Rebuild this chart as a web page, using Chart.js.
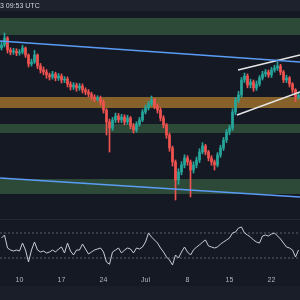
<!DOCTYPE html>
<html><head><meta charset="utf-8">
<script src="https://cdn.jsdelivr.net/npm/chart.js@4.4.1/dist/chart.umd.min.js"></script>
<style>html,body{margin:0;padding:0;background:#151924;overflow:hidden}canvas{display:block}</style>
</head><body>
<canvas id="c" width="300" height="300"></canvas>
<script>
// ---- data (12h candles; day numbers counted from Jun 1 = 1, Jul 1 = 31) ----
const startDay = 7, stepDays = 0.5;
const firstOpen = 71000;
const closes = [71325,72130,70750,70520,70635,70405,70520,70980,70175,69140,
 69370,70175,68910,68450,68220,67875,67645,67990,67530,67760,
 67300,67415,66840,66495,66725,66380,66610,66150,65920,65690,
 65345,65115,65230,64770,63850,62470,61780,62700,63160,62700,
 63045,62470,62930,62010,61550,62240,62700,63620,64080,64540,
 65000,64310,63850,62930,62125,60975,59480,57870,55800,56720,
 57525,58330,57870,56950,57525,58100,59020,59710,59020,58330,
 57870,57525,58675,59480,60400,61320,61780,63620,65000,65575,
 67300,67760,66725,67070,66380,66840,67530,67990,68220,67875,
 68450,68680,68910,68220,67300,67530,66840,66150,65345,65575];
const highs = [71700,72705,72300,71000,70950,70900,70800,71300,71100,70300,
 69700,70700,70300,69200,68800,68500,68100,68300,68200,68050,
 68000,67700,67650,67100,67000,66950,66900,66850,66400,66200,
 65900,65600,65500,65450,65000,64000,62800,63000,63500,63450,
 63350,63300,63250,63100,62300,62500,63000,63900,64400,64850,
 65460,65200,64550,64100,63200,62300,61200,59700,58100,57100,
 57900,58700,58600,58100,57900,58450,59400,60100,59900,59200,
 58600,58100,58950,59800,60700,61600,62100,64000,65300,66000,
 67600,68100,68000,67400,67300,67200,67800,68300,68500,68450,
 68750,69000,69370,69100,68400,67850,67700,67000,66300,65900];
const lows = [70750,71100,70400,70200,70250,70100,70150,70300,69900,68800,
 68900,69200,68600,68100,67900,67500,67300,67400,67200,67250,
 66950,67000,66500,66150,66200,66000,66100,65800,65600,65350,
 65000,64800,64900,64400,63500,60975,59020,61500,62400,62400,
 62400,62150,62200,61700,61200,61300,62000,62500,63400,63850,
 64300,64000,63500,62600,61800,60600,59100,57400,53500,55300,
 56400,57200,57500,53845,56600,57200,57800,58800,58700,58000,
 57500,56950,57300,58400,59200,60100,61000,61500,63300,64700,
 65300,67000,66400,66400,66000,66100,66600,67300,67700,67600,
 67600,68200,68400,67900,67000,67000,66500,65800,64800,65100];
const rsi = [62,66.8,46,42.8,41.2,42.8,41.2,54,42.8,23.6,
 42.8,55.6,42.8,39.6,41.2,38,39.6,42.8,39.6,44.4,
 47.6,38,54,41.2,34.8,42.8,42.8,52.4,44.4,36.4,
 39.6,42.8,44.4,46,39.6,23.6,20,39.6,42.8,46,
 38,42.8,46,44.4,38,46,44.4,47.6,55.6,70,
 63.6,58.8,54,46,39.6,31.6,26.8,18.8,34.8,30,
 39.6,47.6,39.6,34.8,42.8,47.6,50.8,55.6,58.8,49.2,
 47.6,46,47.6,52.4,55.6,58.8,62,70,71.6,78,
 79.6,70,66.8,63.6,58.8,55.6,54,65.2,66.8,65.2,
 68.4,70,65.2,60.4,54,47.6,46,42.8,31.6,42.8];
const tickDays = [10,17,24,31,38,45,52];
const tickLabels = ['10','17','24','Jul','8','15','22'];
// horizontal zones (price ranges)
const zoneLow  = [72475, 64080, 61205, 54190];
const zoneHigh = [74430, 65345, 62240, 55915];
// trend lines: [day, price] endpoints
const blueTopDays = [6.75, 56.75],  blueTopPrices = [71785, 69370];
const blueBotDays = [6.75, 56.75],  blueBotPrices = [56030, 53845];
const wedgeTopDays = [46.42, 56.75], wedgeTopPrices = [68450, 70175];
const wedgeBotDays = [46.25, 56.75], wedgeBotPrices = [63275, 65920];
const rsiLevels = [70, 30];
const xRange = [6.75, 56.75];

// ---- styles ----
const UP = '#26a69a', DOWN = '#ef5350';
const zoneFill = ['#2c4a37', '#86622a', '#2c4a37', '#2c4a37'];

// ---- build ----
const days = closes.map((_, i) => startDay + stepDays * i);
const opens = closes.map((c, i) => i === 0 ? firstOpen : closes[i - 1]);
const col = closes.map((c, i) => c >= opens[i] ? UP : DOWN);
const pairs = (ds, ps) => ds.map((d, i) => ({x: d, y: ps[i]}));

const zonePlugin = {
  id: 'zones',
  beforeDraw(chart) {
    const ctx = chart.ctx;
    ctx.save();
    ctx.fillStyle = '#151924';
    ctx.fillRect(0, 0, chart.width, chart.height);
    ctx.restore();
  },
  beforeDatasetsDraw(chart) {
    const {ctx, chartArea: a, scales: {y}} = chart;
    ctx.save();
    zoneLow.forEach((lo, i) => {
      const t = y.getPixelForValue(zoneHigh[i]), b = y.getPixelForValue(lo);
      ctx.fillStyle = zoneFill[i];
      ctx.fillRect(a.left, t, a.right - a.left, b - t);
    });
    ctx.fillStyle = '#232734';
    ctx.fillRect(0, 219, chart.width, 1);
    ctx.restore();
  },
  afterDraw(chart) {
    const ctx = chart.ctx;
    ctx.save();
    ctx.fillStyle = '#1e222d';
    ctx.fillRect(0, 0, chart.width, 11);
    ctx.fillStyle = '#1a1e29';
    ctx.fillRect(0, 286, chart.width, 14);
    ctx.fillStyle = '#d1d4dc';
    ctx.font = '7px "Liberation Sans", Arial, sans-serif';
    ctx.textBaseline = 'middle';
    ctx.fillText('3 09:53 UTC', 0, 6);
    ctx.restore();
  }
};

const lineDs = (ds, ps, color, axis, dash) => ({
  type: 'line', data: pairs(ds, ps), borderColor: color, borderWidth: 1.5,
  pointRadius: 0, yAxisID: axis, borderDash: dash || [], order: 0
});

new Chart(document.getElementById('c'), {
  type: 'bar',
  data: {
    datasets: [
      lineDs(blueTopDays, blueTopPrices, '#5b9cf6', 'y'),
      lineDs(blueBotDays, blueBotPrices, '#5b9cf6', 'y'),
      lineDs(wedgeTopDays, wedgeTopPrices, '#e6e6e6', 'y'),
      lineDs(wedgeBotDays, wedgeBotPrices, '#e6e6e6', 'y'),
      {type: 'line', data: pairs(xRange, [rsiLevels[0], rsiLevels[0]]),
       borderColor: '#5d606b', borderWidth: 1, borderDash: [2, 2], pointRadius: 0, yAxisID: 'yr', order: 1},
      {type: 'line', data: pairs(xRange, [rsiLevels[1], rsiLevels[1]]),
       borderColor: '#5d606b', borderWidth: 1, borderDash: [2, 2], pointRadius: 0, yAxisID: 'yr', order: 1},
      {type: 'line', data: pairs(days, rsi), borderColor: '#c9cbd9', borderWidth: 1,
       pointRadius: 0, tension: 0, yAxisID: 'yr', order: 0},
      {type: 'bar', data: days.map((d, i) => ({x: d, y: [opens[i], closes[i]]})),
       backgroundColor: col, barThickness: 2, minBarLength: 1, grouped: false, yAxisID: 'y', order: 2},
      {type: 'bar', data: days.map((d, i) => ({x: d, y: [lows[i], highs[i]]})),
       backgroundColor: col, barThickness: 1, grouped: false, yAxisID: 'y', order: 3}
    ]
  },
  options: {
    responsive: false, animation: false, events: [],
    layout: {padding: 0},
    plugins: {legend: {display: false}, tooltip: {enabled: false}},
    scales: {
      x: {type: 'linear', min: xRange[0], max: xRange[1], offset: false,
          grid: {display: false, drawTicks: false, offset: false}, border: {display: false},
          ticks: {color: '#b2b5be', font: {size: 7, family: 'Liberation Sans'}, padding: 4,
                  autoSkip: false, maxRotation: 0,
                  callback: (v) => { const k = tickDays.indexOf(v); return k < 0 ? '' : tickLabels[k]; }},
          afterBuildTicks: (s) => { s.ticks = tickDays.map(v => ({value: v})); },
          afterFit: (s) => { s.height = 28; s.paddingLeft = 0; s.paddingRight = 0; }},
      y: {display: false, min: 45220, max: 76500},
      yr: {display: false, min: 7.6, max: 442.8}
    }
  },
  plugins: [zonePlugin]
});
</script>
</body></html>
